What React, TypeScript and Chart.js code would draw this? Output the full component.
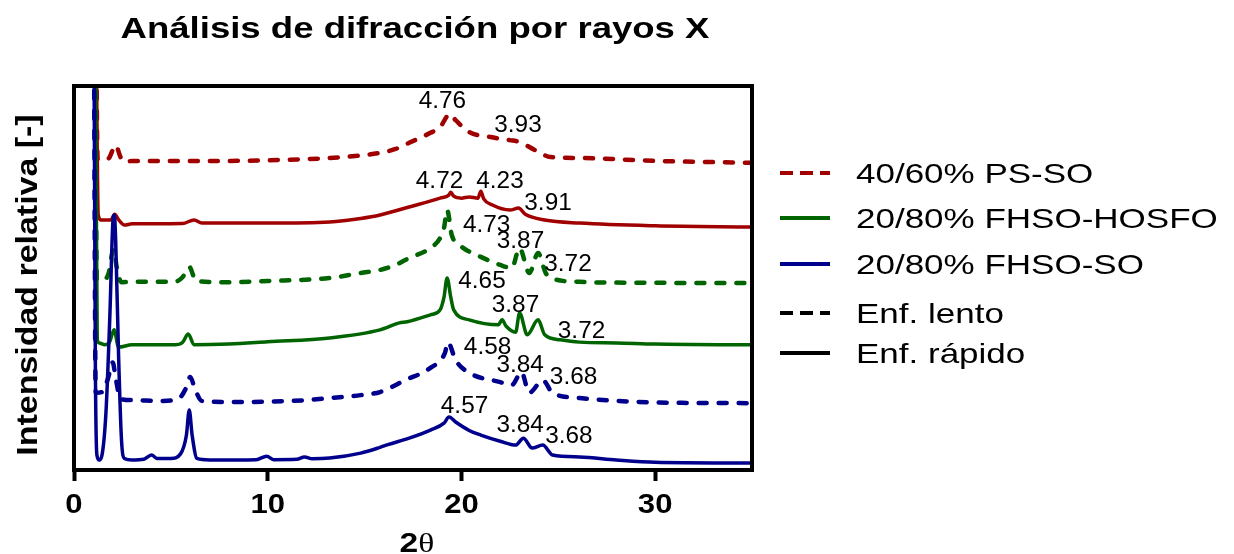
import React, { useEffect, useRef } from "react";
import { Chart, registerables } from "chart.js";

Chart.register(...registerables);

type Pt = [number, number];

// ---- data: 2θ vs. relative intensity (each pattern stacked above the previous) ----
const xTicks = [0, 10, 20, 30];

const psSoSlow: Pt[] = [
  [1.12, 130], [1.22, 81.0], [1.5, 80.7], [1.8, 81.2], [2.15, 84.6], [2.4, 81.5], [2.6, 80.2],
  [3.0, 80.5], [8.0, 80.5], [11.0, 80.8], [13.2, 81.25], [14.8, 81.9], [15.8, 82.6], [16.6, 83.6],
  [17.3, 85.2], [18.4, 87.8], [18.9, 89.3], [19.4, 92.7], [19.7, 91.1], [20.4, 88.0], [21.5, 86.7],
  [22.5, 85.9], [23.0, 85.4], [23.8, 83.3], [24.6, 81.5], [26.1, 81.25], [30.0, 80.5], [35.0, 80.0],
];

const psSoFast: Pt[] = [
  [1.12, 130], [1.25, 66.5], [1.4, 65.1], [1.9, 65.1], [2.1, 66.6], [2.3, 65.2], [2.6, 63.8],
  [3.0, 64.1], [5.6, 64.2], [6.2, 65.1], [6.6, 64.3], [10.0, 64.3], [13.2, 64.6], [14.8, 65.5],
  [15.8, 66.4], [17.3, 68.5], [18.9, 70.8], [19.35, 71.6], [19.45, 72.3], [19.6, 71.3], [20.0, 70.8],
  [20.4, 71.1], [20.85, 70.8], [21.0, 72.6], [21.15, 70.6], [21.6, 69.0], [22.5, 67.7], [22.95, 68.2],
  [23.3, 66.6], [24.3, 65.1], [26.1, 64.3], [30.0, 63.6], [35.0, 63.3],
];

const hosfoSlow: Pt[] = [
  [1.08, 130], [1.18, 49.5], [1.5, 49.5], [1.8, 51.5], [1.95, 56], [2.05, 57.5], [2.2, 53],
  [2.45, 48.9], [3.0, 49.0], [5.2, 49.0], [5.6, 50.2], [5.95, 52.9], [6.3, 49.2], [8.0, 48.9],
  [10.0, 49.2], [13.2, 50.0], [14.8, 51.3], [15.8, 52.1], [16.6, 53.4], [17.3, 55.2], [18.4, 57.8],
  [18.9, 60.4], [19.1, 63.0], [19.26, 67.7], [19.5, 61.2], [19.9, 58.6], [21.0, 55.5], [22.0, 53.4],
  [22.6, 52.6], [23.0, 57.8], [23.5, 51.3], [23.96, 56.5], [24.35, 51.3], [24.8, 49.7], [26.1, 49.0],
  [28.0, 48.8], [35.0, 48.7],
];

const hosfoFast: Pt[] = [
  [1.08, 130], [1.2, 34], [1.3, 33.1], [1.6, 32.6], [1.85, 33.5], [2.07, 36.5], [2.3, 32.0],
  [3.0, 32.6], [5.2, 32.6], [5.6, 33.2], [5.9, 35.4], [6.2, 32.6], [8.0, 32.8], [10.0, 33.4],
  [13.2, 34.4], [15.8, 36.5], [16.8, 38.3], [17.2, 38.6], [18.4, 40.4], [18.9, 41.7], [19.1, 45],
  [19.26, 50], [19.45, 45], [19.6, 41.7], [20.4, 39.1], [21.9, 37.8], [22.1, 39.1], [22.3, 37.5],
  [22.8, 35.9], [23.0, 40.9], [23.4, 35.2], [23.96, 39.1], [24.3, 35.2], [25.1, 33.9], [26.1, 33.3],
  [28.0, 33.1], [30.0, 32.8], [35.0, 32.6],
];

const soSlow: Pt[] = [
  [1.02, 130], [1.12, 20.1], [1.45, 20.3], [1.7, 23], [1.9, 26.5], [2.0, 28], [2.15, 24],
  [2.4, 18.5], [3.0, 18.2], [4.5, 18.0], [5.4, 18.6], [5.75, 21], [6.0, 24.2], [6.25, 21],
  [6.6, 18.0], [8.0, 17.7], [10.0, 17.8], [12.0, 18.2], [13.2, 18.75], [14.8, 19.5], [15.8, 20.3],
  [17.1, 23.4], [18.4, 26.6], [19.15, 30.5], [19.3, 33.3], [19.7, 28.6], [20.4, 25.3], [22.0, 22.9],
  [22.6, 22.1], [23.1, 25.5], [23.5, 20.1], [24.2, 23.4], [24.7, 20.1], [26.1, 18.75], [28.0, 18.0],
  [30.0, 17.6], [35.0, 17.4],
];

const soFast: Pt[] = [
  [1.02, 130], [1.1, 30], [1.18, 4], [1.3, 2.6], [1.45, 4], [1.65, 15], [1.85, 40], [2.0, 64],
  [2.08, 66.4], [2.15, 60], [2.3, 30], [2.45, 8], [2.6, 3], [3.0, 2.6], [3.6, 2.8], [4.0, 3.9],
  [4.3, 3.0], [5.0, 3.0], [5.5, 4.2], [5.8, 9], [5.95, 15.6], [6.1, 9], [6.35, 3.0], [7.0, 2.6],
  [9.4, 2.7], [9.95, 3.6], [10.3, 2.7], [11.5, 2.8], [11.9, 3.4], [12.3, 2.9], [13.2, 3.1],
  [14.8, 4.4], [15.8, 5.9], [16.2, 6.6], [17.3, 8.3], [18.4, 10.4], [19.1, 12.2], [19.36, 13.8],
  [19.7, 12.5], [20.4, 10.3], [21.0, 9.1], [22.0, 7.5], [22.8, 6.5], [23.2, 8.3], [23.65, 5.7],
  [24.2, 6.5], [24.7, 3.9], [26.1, 3.4], [28.0, 2.6], [30.0, 2.0], [35.0, 1.8],
];

// d-spacing labels (Å) placed next to their reflections
const peakTexts = ["4.76", "3.93", "4.72", "4.23", "3.91", "4.73", "3.87", "3.72", "4.65", "3.87", "3.72", "4.58", "3.84", "3.68", "4.57", "3.84", "3.68"];
const peakX = [19.02, 22.92, 18.87, 21.99, 24.47, 21.3, 23.05, 25.5, 21.06, 22.79, 26.2, 21.35, 23.03, 25.79, 20.16, 23.03, 25.55];
const peakY = [96.4, 90.0, 75.5, 75.4, 69.7, 64.1, 59.8, 53.9, 49.4, 43.1, 36.5, 32.4, 27.5, 24.6, 16.9, 11.9, 9.1];

const legendTexts = ["40/60% PS-SO", "20/80% FHSO-HOSFO", "20/80% FHSO-SO", "Enf. lento", "Enf. rápido"];

const titleText = "Análisis de difracción por rayos X";
const yTitleText = "Intensidad relativa [-]";

// ---- styling ----
const RED = "#a00000";
const GREEN = "#006400";
const BLUE = "#00008c";
const SANS = '"Liberation Sans", Arial, sans-serif';
const SERIF = '"Liberation Serif", "DejaVu Serif", serif';
const SLOW_DASH = [8, 12];

function wideText(
  ctx: CanvasRenderingContext2D,
  text: string,
  x: number,
  y: number,
  font: string,
  sx: number,
  align: CanvasTextAlign,
  rotation = 0
) {
  ctx.save();
  ctx.translate(x, y);
  if (rotation) ctx.rotate(rotation);
  ctx.scale(sx, 1);
  ctx.font = font;
  ctx.textAlign = align;
  ctx.textBaseline = "alphabetic";
  ctx.fillStyle = "#000";
  ctx.fillText(text, 0, 0);
  ctx.restore();
}

const decorations = {
  id: "decorations",
  afterDatasetsDraw(chart: any) {
    const { ctx, chartArea: a, scales } = chart;
    // frame around the plotting area
    ctx.save();
    ctx.strokeStyle = "#000";
    ctx.lineWidth = 4;
    ctx.strokeRect(a.left, a.top, a.right - a.left, a.bottom - a.top);
    ctx.restore();

    // d-spacing labels
    peakTexts.forEach((t, i) => {
      const px = scales.x.getPixelForValue(peakX[i]);
      const py = scales.y.getPixelForValue(peakY[i]);
      wideText(ctx, t, px, py + 8, `23px ${SANS}`, 1.06, "center");
    });
  },
  afterDraw(chart: any) {
    const { ctx, chartArea: a, scales } = chart;
    const cx = (a.left + a.right) / 2;

    // title
    wideText(ctx, titleText, cx + 2, 38, `bold 29px ${SANS}`, 1.26, "center");

    // x tick labels
    xTicks.forEach((v) => {
      wideText(ctx, String(v), scales.x.getPixelForValue(v), 513, `bold 27px ${SANS}`, 1.15, "center");
    });

    // x axis title: 2θ
    ctx.save();
    ctx.font = `bold 28px ${SANS}`;
    const w2 = ctx.measureText("2").width * 1.2;
    ctx.font = `28px ${SERIF}`;
    const wt = ctx.measureText("θ").width * 1.2;
    ctx.restore();
    const start = cx + 4 - (w2 + wt) / 2;
    wideText(ctx, "2", start, 552, `bold 28px ${SANS}`, 1.2, "left");
    wideText(ctx, "θ", start + w2, 552, `28px ${SERIF}`, 1.2, "left");

    // y axis title
    wideText(ctx, yTitleText, 37, (a.top + a.bottom) / 2 + 7, `bold 29px ${SANS}`, 1.17, "center", -Math.PI / 2);

    // legend
    const rows = [173, 218, 264, 313, 353];
    const swatch = [
      { color: RED, dash: [13, 7] },
      { color: GREEN, dash: [] as number[] },
      { color: BLUE, dash: [] as number[] },
      { color: "#000", dash: [13, 7] },
      { color: "#000", dash: [] as number[] },
    ];
    rows.forEach((y, i) => {
      ctx.save();
      ctx.strokeStyle = swatch[i].color;
      ctx.lineWidth = 4;
      ctx.setLineDash(swatch[i].dash);
      ctx.beginPath();
      ctx.moveTo(780, y);
      ctx.lineTo(830, y);
      ctx.stroke();
      ctx.restore();
      wideText(ctx, legendTexts[i], 856, y + 10, `28px ${SANS}`, 1.25, "left");
    });
  },
};

function makeSet(label: string, data: Pt[], color: string, slow: boolean) {
  return {
    label,
    data,
    borderColor: color,
    backgroundColor: color,
    borderWidth: slow ? 4.5 : 3.5,
    borderDash: slow ? SLOW_DASH : [],
    borderCapStyle: slow ? "round" : "butt",
    borderJoinStyle: "round",
    pointRadius: 0,
    cubicInterpolationMode: "monotone",
    fill: false,
  };
}

export default function App() {
  const canvasRef = useRef<HTMLCanvasElement | null>(null);

  useEffect(() => {
    const canvas = canvasRef.current;
    if (!canvas) return;
    const chart = new Chart(canvas, {
      type: "line",
      data: {
        datasets: [
          makeSet("20/80% FHSO-SO rápido", soFast, BLUE, false),
          makeSet("20/80% FHSO-SO lento", soSlow, BLUE, true),
          makeSet("20/80% FHSO-HOSFO rápido", hosfoFast, GREEN, false),
          makeSet("20/80% FHSO-HOSFO lento", hosfoSlow, GREEN, true),
          makeSet("40/60% PS-SO rápido", psSoFast, RED, false),
          makeSet("40/60% PS-SO lento", psSoSlow, RED, true),
        ] as any,
      },
      options: {
        responsive: false,
        devicePixelRatio: 1,
        animation: false,
        events: [],
        layout: { autoPadding: false, padding: { top: 86, left: 74, right: 482, bottom: 54 } },
        plugins: { legend: { display: false }, title: { display: false }, tooltip: { enabled: false } },
        scales: {
          x: {
            type: "linear",
            min: 0,
            max: 35,
            afterBuildTicks: (s: any) => {
              s.ticks = xTicks.map((v) => ({ value: v }));
            },
            afterFit: (s: any) => {
              s.height = 30;
            },
            ticks: { display: false },
            grid: {
              display: true,
              drawOnChartArea: false,
              drawTicks: true,
              tickLength: 11,
              tickWidth: 4,
              tickColor: "#000",
            },
            border: { display: false },
          },
          y: {
            type: "linear",
            min: 0,
            max: 100,
            display: false,
          },
        },
      } as any,
      plugins: [decorations],
    });
    return () => chart.destroy();
  }, []);

  return (
    <div style={{ position: "fixed", left: 0, top: 0, width: 1234, height: 554, background: "#fff" }}>
      <canvas ref={canvasRef} width={1234} height={554} />
    </div>
  );
}
